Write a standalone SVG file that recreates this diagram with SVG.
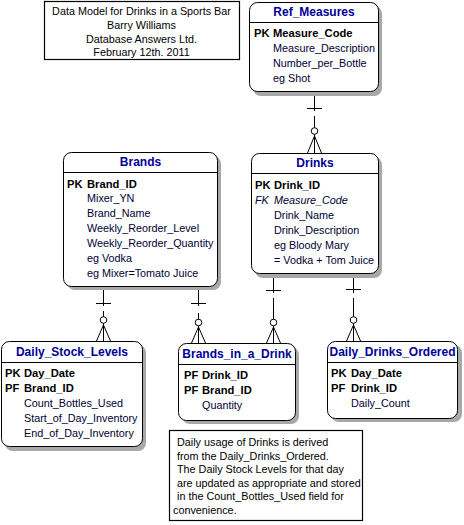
<svg xmlns="http://www.w3.org/2000/svg" width="464" height="525" viewBox="0 0 464 525">
<defs>
<style>
text{font-family:"Liberation Sans",Arial,sans-serif;font-size:10.8px;fill:#000033}
.t{font-weight:bold;font-size:12px;fill:#000099;text-anchor:middle}
.k{font-weight:bold;font-size:11.2px;fill:#000}
.fk{font-style:italic}
.n{fill:#000;text-anchor:middle}
.note{fill:#000}
.box{fill:#fff;stroke:#000;stroke-width:1}
.sh{fill:#a8a8a8}
.hl{stroke:#000;stroke-width:1}
.c line,.c path{stroke:#000;stroke-width:1;fill:none}
.c circle{stroke:#000;stroke-width:1;fill:#fff}
</style>
</defs>
<rect width="464" height="525" fill="#fff"/>

<g id="title">
<rect x="44.5" y="1.5" width="195" height="58" fill="#fff" stroke="#000" stroke-width="1.2"/>
<text class="n" x="141.5" y="15">Data Model for Drinks in a Sports Bar</text>
<text class="n" x="141.5" y="29">Barry Williams</text>
<text class="n" x="141.5" y="43">Database Answers Ltd.</text>
<text class="n" x="141.5" y="56">February 12th. 2011</text>
</g>

<g class="c" id="connectors">
<!-- Ref_Measures to Drinks -->
<line x1="314.5" y1="92" x2="314.5" y2="111"/>
<line x1="307" y1="108.5" x2="322" y2="108.5"/>
<line x1="314.5" y1="116" x2="314.5" y2="153"/>
<circle cx="314.5" cy="131" r="3.3"/>
<path d="M314.5 136 L307.5 153 M314.5 136 L321.5 153"/>
<!-- Brands to Daily_Stock_Levels -->
<line x1="103.5" y1="287" x2="103.5" y2="306"/>
<line x1="96" y1="303.5" x2="111" y2="303.5"/>
<line x1="103.5" y1="311" x2="103.5" y2="341"/>
<circle cx="103.5" cy="320" r="3.3"/>
<path d="M103.5 325 L96.5 341 M103.5 325 L110.5 341"/>
<!-- Brands to Brands_in_a_Drink -->
<line x1="198.5" y1="287" x2="198.5" y2="306"/>
<line x1="191" y1="303.5" x2="206" y2="303.5"/>
<line x1="198.5" y1="313" x2="198.5" y2="343"/>
<circle cx="198.5" cy="322.5" r="3.3"/>
<path d="M198.5 327 L191.5 343 M198.5 327 L205.5 343"/>
<!-- Drinks to Brands_in_a_Drink -->
<line x1="273.5" y1="274" x2="273.5" y2="293"/>
<line x1="266" y1="290.5" x2="281" y2="290.5"/>
<line x1="273.5" y1="298" x2="273.5" y2="343"/>
<circle cx="273.5" cy="322.5" r="3.3"/>
<path d="M273.5 327 L266.5 343 M273.5 327 L280.5 343"/>
<!-- Drinks to Daily_Drinks_Ordered -->
<line x1="353.5" y1="274" x2="353.5" y2="293"/>
<line x1="346" y1="289.5" x2="361" y2="289.5"/>
<line x1="353.5" y1="298" x2="353.5" y2="341"/>
<circle cx="353.5" cy="320" r="3.3"/>
<path d="M353.5 325 L346.5 341 M353.5 325 L360.5 341"/>
</g>

<g id="Ref_Measures">
<rect class="sh" x="253" y="6" width="129" height="90" rx="8"/>
<rect class="box" x="249.5" y="2.5" width="129" height="89" rx="8"/>
<line class="hl" x1="249.5" y1="22.5" x2="378.5" y2="22.5"/>
<text class="t" x="314" y="16">Ref_Measures</text>
<text class="k" x="254" y="37">PK</text>
<text class="k" x="273" y="37">Measure_Code</text>
<text x="273" y="52">Measure_Description</text>
<text x="273" y="67">Number_per_Bottle</text>
<text x="273" y="82">eg Shot</text>
</g>

<g id="Brands">
<rect class="sh" x="67" y="156" width="154" height="134" rx="8"/>
<rect class="box" x="63.5" y="152.5" width="154" height="134" rx="8"/>
<line class="hl" x1="63.5" y1="172.5" x2="217.5" y2="172.5"/>
<text class="t" x="140.5" y="166">Brands</text>
<text class="k" x="67" y="188">PK</text>
<text class="k" x="87" y="188">Brand_ID</text>
<text x="87" y="202">Mixer_YN</text>
<text x="87" y="217">Brand_Name</text>
<text x="87" y="232">Weekly_Reorder_Level</text>
<text x="87" y="247">Weekly_Reorder_Quantity</text>
<text x="87" y="262">eg Vodka</text>
<text x="87" y="277">eg Mixer=Tomato Juice</text>
</g>

<g id="Drinks">
<rect class="sh" x="255" y="157" width="127" height="121" rx="8"/>
<rect class="box" x="251.5" y="153.5" width="127" height="120" rx="8"/>
<line class="hl" x1="251.5" y1="173.5" x2="378.5" y2="173.5"/>
<text class="t" x="315" y="167">Drinks</text>
<text class="k" x="255" y="189">PK</text>
<text class="k" x="274" y="189">Drink_ID</text>
<text class="fk" x="255" y="204">FK</text>
<text class="fk" x="274" y="204">Measure_Code</text>
<text x="274" y="219">Drink_Name</text>
<text x="274" y="234">Drink_Description</text>
<text x="274" y="249">eg Bloody Mary</text>
<text x="274" y="264">= Vodka + Tom Juice</text>
</g>

<g id="Daily_Stock_Levels">
<rect class="sh" x="5" y="345" width="141" height="106" rx="8"/>
<rect class="box" x="1.5" y="341.5" width="141" height="105" rx="8"/>
<line class="hl" x1="1.5" y1="362.5" x2="142.5" y2="362.5"/>
<text class="t" x="72" y="356">Daily_Stock_Levels</text>
<text class="k" x="5" y="377">PK</text>
<text class="k" x="24" y="377">Day_Date</text>
<text class="k" x="5" y="392">PF</text>
<text class="k" x="24" y="392">Brand_ID</text>
<text x="24" y="407">Count_Bottles_Used</text>
<text x="24" y="422">Start_of_Day_Inventory</text>
<text x="24" y="437">End_of_Day_Inventory</text>
</g>

<g id="Brands_in_a_Drink">
<rect class="sh" x="182" y="347" width="117" height="77" rx="8"/>
<rect class="box" x="178.5" y="343.5" width="117" height="77" rx="8"/>
<line class="hl" x1="178.5" y1="364.5" x2="295.5" y2="364.5"/>
<text class="t" x="237" y="358">Brands_in_a_Drink</text>
<text class="k" x="184" y="379">PF</text>
<text class="k" x="202" y="379">Drink_ID</text>
<text class="k" x="184" y="394">PF</text>
<text class="k" x="202" y="394">Brand_ID</text>
<text x="202" y="409">Quantity</text>
</g>

<g id="Daily_Drinks_Ordered">
<rect class="sh" x="331" y="345" width="131" height="77" rx="8"/>
<rect class="box" x="327.5" y="341.5" width="130" height="77" rx="8"/>
<line class="hl" x1="327.5" y1="362.5" x2="457.5" y2="362.5"/>
<text class="t" x="392.5" y="356">Daily_Drinks_Ordered</text>
<text class="k" x="331" y="377">PK</text>
<text class="k" x="351" y="377">Day_Date</text>
<text class="k" x="331" y="392">PF</text>
<text class="k" x="351" y="392">Drink_ID</text>
<text x="351" y="407">Daily_Count</text>
</g>

<g id="note">
<rect x="169.5" y="430.5" width="193" height="90" fill="#fff" stroke="#000" stroke-width="1.2"/>
<text class="note" x="177" y="446">Daily usage of Drinks is derived</text>
<text class="note" x="177" y="460">from the Daily_Drinks_Ordered.</text>
<text class="note" x="177" y="473">The Daily Stock Levels for that day</text>
<text class="note" x="177" y="487">are updated as appropriate and stored</text>
<text class="note" x="177" y="500">in the Count_Bottles_Used field for</text>
<text class="note" x="173" y="514">convenience.</text>
</g>
</svg>
